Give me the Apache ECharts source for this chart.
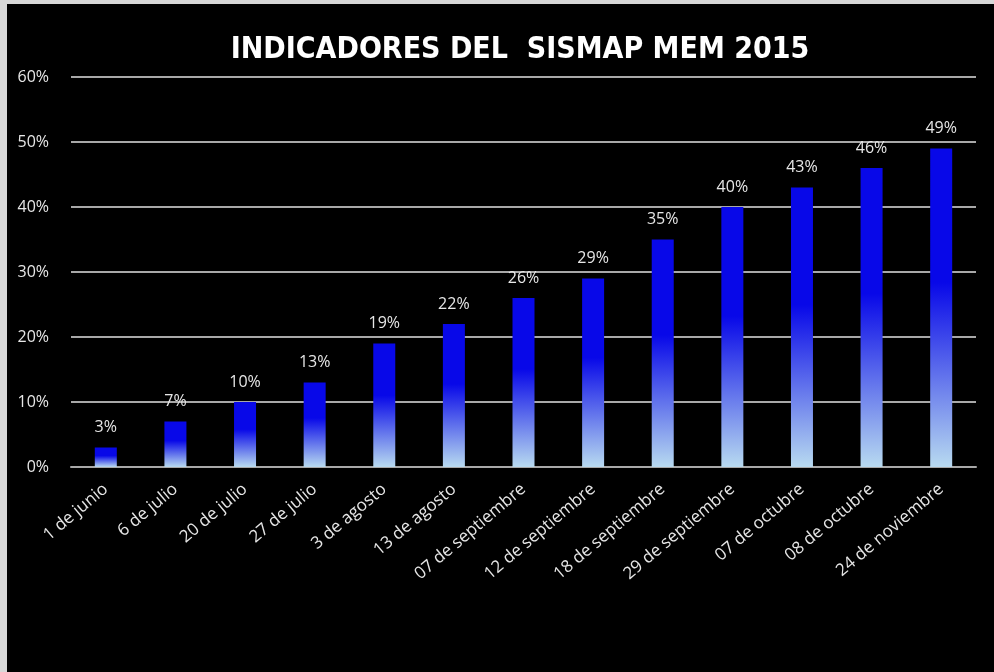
<!DOCTYPE html>
<html>
<head>
<meta charset="utf-8">
<script src="https://cdn.jsdelivr.net/npm/echarts@6/dist/echarts.min.js"></script>
<style>
  html, body { margin: 0; padding: 0; background: #d8d8d8; }
  #chart { position: absolute; left: 7px; top: 4px; width: 987px; height: 668px; }
</style>
</head>
<body>
<div id="chart"></div>
<script>
const categories = [
  "1 de junio", "6 de julio", "20 de julio", "27 de julio", "3 de agosto",
  "13 de agosto", "07 de septiembre", "12 de septiembre", "18 de septiembre",
  "29 de septiembre", "07 de octubre", "08 de octubre", "24 de noviembre"
];
const values = [3, 7, 10, 13, 19, 22, 26, 29, 35, 40, 43, 46, 49];
const yTicks = [0, 10, 20, 30, 40, 50, 60];

const chart = echarts.init(document.getElementById("chart"));

const barFill = new echarts.graphic.LinearGradient(0, 0, 0, 1, [
  { offset: 0, color: "#0808e8" },
  { offset: 0.42, color: "#0808e8" },
  { offset: 1, color: "#b8daf0" },
]);

chart.setOption({
  backgroundColor: "#000",
  animation: false,
  title: {
    text: "INDICADORES DEL  SISMAP MEM 2015",
    left: 508,
    top: 26,
    textAlign: "center",
    textStyle: {
      color: "#fff",
      fontSize: 30,
      fontWeight: "bold",
      fontFamily: "'Liberation Sans Narrow', 'DejaVu Sans Condensed', sans-serif",
    },
  },
  grid: {
    left: 64,
    right: 18,
    top: 73,
    bottom: 205,
  },
  xAxis: {
    type: "category",
    data: categories,
    axisLine: { lineStyle: { color: "#a8a8a8", width: 2 } },
    axisTick: { show: false },
    axisLabel: {
      rotate: 40,
      margin: 20,
      interval: 0,
      color: "#e6e6e6",
      fontSize: 17,
      fontFamily: "'Open Sans', sans-serif",
    },
  },
  yAxis: {
    type: "value",
    min: yTicks[0],
    max: yTicks[yTicks.length - 1],
    interval: 10,
    axisLine: { show: false },
    axisTick: { show: false },
    splitLine: { lineStyle: { color: "#a8a8a8", width: 2 } },
    axisLabel: {
      margin: 22,
      color: "#e6e6e6",
      fontSize: 16,
      fontFamily: "'Open Sans', sans-serif",
      formatter: (v) => `${v}%`,
    },
  },
  series: [{
    type: "bar",
    data: values,
    barWidth: 22,
    itemStyle: { color: barFill },
    label: {
      show: true,
      position: "top",
      distance: 12,
      color: "#e6e6e6",
      fontSize: 16,
      fontFamily: "'Open Sans', sans-serif",
      formatter: (p) => `${p.value}%`,
    },
  }],
});
</script>
</body>
</html>
